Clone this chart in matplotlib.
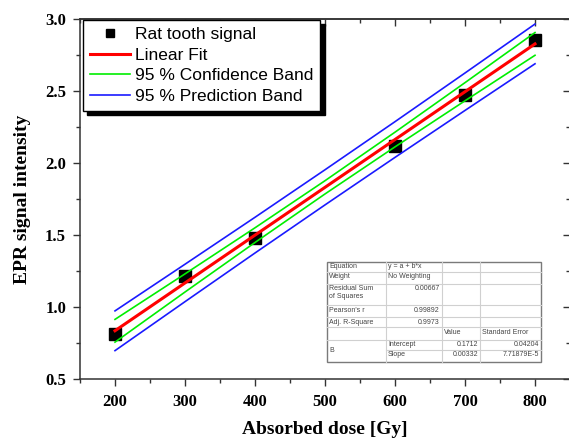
import matplotlib
matplotlib.use("Agg")
import matplotlib.pyplot as plt
from matplotlib.ticker import MultipleLocator
import numpy as np

# measured points
dose = [200, 300, 400, 600, 700, 800]
signal = [0.81, 1.217, 1.48, 2.118, 2.475, 2.855]

# fit line and bands
band_x = [200, 300, 400, 500, 600, 700, 800]
fit_y = [0.835, 1.167, 1.499, 1.831, 2.163, 2.495, 2.827]
conf_hw = [0.079, 0.063, 0.051, 0.046, 0.051, 0.063, 0.079]
pred_hw = [0.138, 0.130, 0.124, 0.122, 0.124, 0.130, 0.138]

# fit result table
table_rows = [
    ["Equation", "y = a + b*x", "", ""],
    ["Weight", "No Weighting", "", ""],
    ["Residual Sum\nof Squares", "0.00667", "", ""],
    ["Pearson's r", "0.99892", "", ""],
    ["Adj. R-Square", "0.9973", "", ""],
    ["", "", "Value", "Standard Error"],
    ["B", "Intercept", "0.1712", "0.04204"],
    ["", "Slope", "0.00332", "7.71879E-5"],
]

W, H = 569, 440
fig = plt.figure(figsize=(W / 100, H / 100), dpi=100)
fig.patch.set_facecolor("white")

# axes in pixel terms: left 80, right 570, top 19, bottom 379
ax = fig.add_axes([80 / W, (H - 379) / H, 490 / W, 360 / H])

fit_y = np.array(fit_y)
conf_hw = np.array(conf_hw)
pred_hw = np.array(pred_hw)

ax.plot(dose, signal, "s", color="black", markersize=8, zorder=2,
        label="Rat tooth signal")
ax.plot(band_x, fit_y, color="#ff0000", lw=2.2, zorder=4, label="Linear Fit")
ax.plot(band_x, fit_y + conf_hw, color="#00ee00", lw=1.2, zorder=3,
        label="95 % Confidence Band")
ax.plot(band_x, fit_y - conf_hw, color="#00ee00", lw=1.2, zorder=3)
ax.plot(band_x, fit_y + pred_hw, color="#1a1aff", lw=1.2, zorder=3,
        label="95 % Prediction Band")
ax.plot(band_x, fit_y - pred_hw, color="#1a1aff", lw=1.2, zorder=3)

ax.set_xlim(150, 850)
ax.set_ylim(0.5, 3.0)
ax.xaxis.set_major_locator(MultipleLocator(100))
ax.xaxis.set_minor_locator(MultipleLocator(50))
ax.yaxis.set_major_locator(MultipleLocator(0.5))
ax.yaxis.set_minor_locator(MultipleLocator(0.25))
ax.yaxis.set_major_formatter(matplotlib.ticker.FormatStrFormatter("%.1f"))

for s in ax.spines.values():
    s.set_linewidth(1.1)
    s.set_color("#333333")

ax.tick_params(which="both", bottom=True, left=True, top=False, right=False,
               direction="out", color="#333333", width=1.0)
ax.tick_params(which="major", length=5)
ax.tick_params(which="minor", length=3)

# inward ticks on top and right
sec_x = ax.secondary_xaxis("top")
sec_x.xaxis.set_major_locator(MultipleLocator(100))
sec_x.xaxis.set_minor_locator(MultipleLocator(50))
sec_x.tick_params(which="both", direction="in", labeltop=False, color="#333333", width=1.0)
sec_x.tick_params(which="major", length=5)
sec_x.tick_params(which="minor", length=3)
sec_y = ax.secondary_yaxis("right")
sec_y.yaxis.set_major_locator(MultipleLocator(0.5))
sec_y.yaxis.set_minor_locator(MultipleLocator(0.25))
sec_y.tick_params(which="both", direction="in", labelright=False, color="#333333", width=1.0)
sec_y.tick_params(which="major", length=5)
sec_y.tick_params(which="minor", length=3)
for sec in (sec_x, sec_y):
    for s in sec.spines.values():
        s.set_linewidth(1.1)
        s.set_color("#333333")

serif = ["Liberation Serif", "DejaVu Serif"]
for lab in ax.get_xticklabels() + ax.get_yticklabels():
    lab.set_family(serif)
    lab.set_fontweight("bold")
    lab.set_fontsize(12)
ax.tick_params(axis="x", pad=6)
ax.tick_params(axis="y", pad=5)

ax.set_xlabel("Absorbed dose [Gy]", family=serif, fontweight="bold",
              fontsize=14, labelpad=8)
ax.set_ylabel("EPR signal intensity", family=serif, fontweight="bold",
              fontsize=14, labelpad=10)

leg = ax.legend(loc="upper left", bbox_to_anchor=(83 / W, 1 - 20 / H),
                bbox_transform=fig.transFigure,
                prop={"family": ["Liberation Sans", "DejaVu Sans"], "size": 12.5},
                frameon=True, fancybox=False, edgecolor="black", framealpha=1,
                shadow={"color": "black", "alpha": 1, "ox": 3, "oy": -3},
                handlelength=2.3, handletextpad=0.3, labelspacing=0.31,
                borderpad=0.4, borderaxespad=0, numpoints=1, markerscale=0.75)
leg.get_frame().set_linewidth(1.0)
leg.set_zorder(10)

# result table, drawn in pixel coordinates on an overlay
ov = fig.add_axes([0, 0, 1, 1], facecolor="none")
ov.set_xlim(0, W)
ov.set_ylim(H, 0)
ov.axis("off")

col_x = [327, 386, 442, 480, 541]
row_y = [262, 272, 284, 305, 317, 327, 340, 350, 362]
ov.add_patch(plt.Rectangle((col_x[0], row_y[0]), col_x[-1] - col_x[0],
                           row_y[-1] - row_y[0], facecolor="white",
                           edgecolor="#7a7a7a", lw=1.0, zorder=5))
for i, y in enumerate(row_y[1:-1], start=1):
    x0 = col_x[1] if i == 7 else col_x[0]
    ov.plot([x0, col_x[-1]], [y, y], color="#d0d0d0", lw=0.8, zorder=6)
for x in col_x[1:-1]:
    ov.plot([x, x], [row_y[0], row_y[-1]], color="#d0d0d0", lw=0.8, zorder=6)

tfont = {"family": ["Liberation Sans", "DejaVu Sans"], "size": 5, "color": "#444444"}
for r, row in enumerate(table_rows):
    ytop = row_y[r] + 1.5
    for c, txt in enumerate(row):
        if not txt:
            continue
        numeric = txt[0].isdigit()
        if r == 6 and c == 0:
            ov.text(col_x[0] + 2, (row_y[6] + row_y[8]) / 2, txt, ha="left",
                    va="center", zorder=7, linespacing=1.0, **tfont)
        elif numeric:
            ov.text(col_x[c + 1] - 2, ytop, txt, ha="right", va="top",
                    zorder=7, **tfont)
        else:
            ov.text(col_x[c] + 2, ytop, txt, ha="left", va="top", zorder=7,
                    linespacing=1.05, **tfont)

fig.savefig("out.png", dpi=100, facecolor="white")
